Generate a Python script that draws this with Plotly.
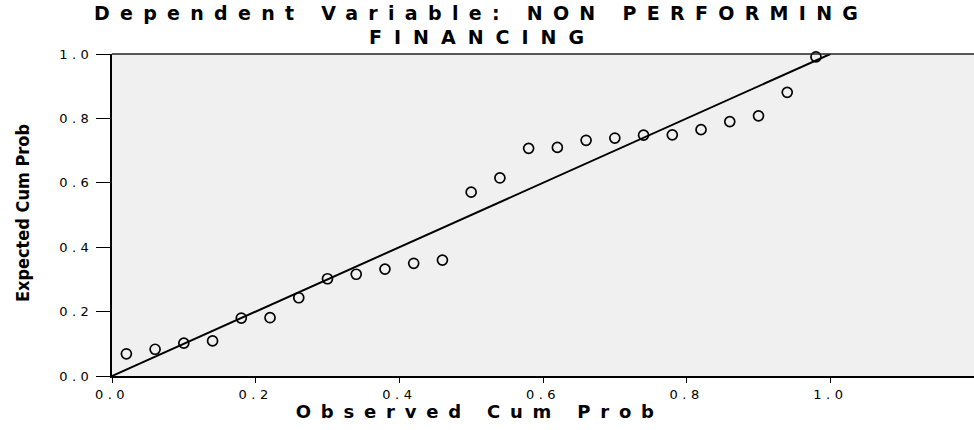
import plotly.graph_objects as go

# Data (P-P plot of regression standardized residual)
observed_cum_prob = [0.02, 0.06, 0.10, 0.14, 0.18, 0.22, 0.26, 0.30, 0.34, 0.38,
                     0.42, 0.46, 0.50, 0.54, 0.58, 0.62, 0.66, 0.70, 0.74, 0.78,
                     0.82, 0.86, 0.90, 0.94, 0.98]
expected_cum_prob = [0.069, 0.083, 0.102, 0.109, 0.180, 0.181, 0.243, 0.302, 0.316, 0.332,
                     0.350, 0.360, 0.571, 0.615, 0.707, 0.710, 0.732, 0.739, 0.748, 0.749,
                     0.765, 0.790, 0.808, 0.881, 0.991]
reference_line_x = [0.0, 1.0]
reference_line_y = [0.0, 1.0]
tick_values = [0.0, 0.2, 0.4, 0.6, 0.8, 1.0]
tick_labels = ["0.0", "0.2", "0.4", "0.6", "0.8", "1.0"]

title_line1 = "Dependent Variable: NON PERFORMING"
title_line2 = "FINANCING"
x_title = "Observed Cum Prob"
y_title = "Expected Cum Prob"

fig = go.Figure()
fig.add_trace(go.Scatter(
    x=reference_line_x, y=reference_line_y, mode="lines",
    line=dict(color="black", width=2), hoverinfo="skip", showlegend=False,
))
fig.add_trace(go.Scatter(
    x=observed_cum_prob, y=expected_cum_prob, mode="markers",
    marker=dict(symbol="circle-open", size=10, color="black", line=dict(width=1.7, color="black")),
    showlegend=False, cliponaxis=False,
))

tick_font = dict(family="DejaVu Sans, Arial, sans-serif", size=13, color="black")
title_font = dict(family="DejaVu Sans, Arial, sans-serif", size=19, color="black", weight="bold")
xtitle_font = dict(family="DejaVu Sans, Arial, sans-serif", size=18, color="black", weight="bold")

fig.update_layout(
    width=974, height=430,
    margin=dict(l=112, r=0, t=54, b=54),
    paper_bgcolor="white",
    plot_bgcolor="#f0f0f0",
    showlegend=False,
    xaxis=dict(
        range=[0, 1.2], tickmode="array", tickvals=tick_values, ticktext=tick_labels,
        showgrid=False, zeroline=False, showline=True, linecolor="black", linewidth=2,
        ticks="outside", ticklen=5, tickwidth=1.2, tickcolor="black",
        tickfont=tick_font, fixedrange=True,
    ),
    yaxis=dict(
        range=[0, 1], tickmode="array", tickvals=tick_values, ticktext=tick_labels,
        showgrid=False, zeroline=False, showline=True, linecolor="black", linewidth=2,
        ticks="outside", ticklen=14, tickwidth=1.2, tickcolor="black",
        tickfont=tick_font, fixedrange=True,
    ),
    shapes=[dict(type="line", xref="paper", yref="paper", x0=0, x1=1, y0=1, y1=1,
                 line=dict(color="#222222", width=1.5))],
    annotations=[
        dict(text=title_line1, xref="paper", yref="paper", x=0.428, y=1.1258,
             xanchor="center", yanchor="middle", showarrow=False, font=title_font),
        dict(text=title_line2, xref="paper", yref="paper", x=0.43, y=1.0543,
             xanchor="center", yanchor="middle", showarrow=False, font=title_font),
        dict(text=x_title, xref="paper", yref="paper", x=0.427, y=-0.1087,
             xanchor="center", yanchor="middle", showarrow=False, font=xtitle_font),
        dict(text=y_title, xref="paper", yref="paper", x=-0.1044, y=0.506,
             xanchor="center", yanchor="middle", showarrow=False, textangle=-90,
             font=dict(family="Liberation Sans Narrow, DejaVu Sans Condensed, Arial Narrow, sans-serif",
                       size=18, color="black", weight="bold")),
    ],
)

post_script = """
document.body.style.margin = '0';
var gd = document.getElementById('{plot_id}');
function ls(sel, v) { gd.querySelectorAll(sel).forEach(function(t){ t.style.letterSpacing = v; }); }
ls('.xtick text', '4.5px');
ls('.ytick text', '4.5px');
ls('.annotation[data-index="0"] text', '10.3px');
ls('.annotation[data-index="1"] text', '12px');
ls('.annotation[data-index="2"] text', '9.8px');
"""

fig.write_html("out.html", post_script=post_script, config={"displayModeBar": False})
